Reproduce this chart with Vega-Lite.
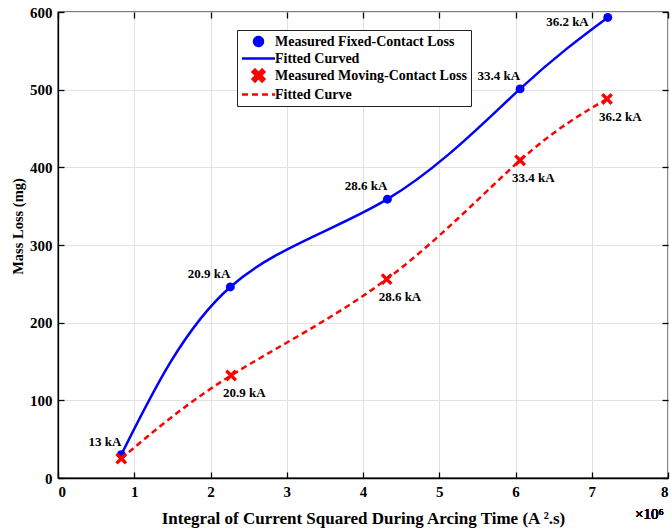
{
  "$schema": "https://vega.github.io/schema/vega-lite/v6.json",
  "width": 610,
  "height": 466,
  "autosize": {"type": "none"},
  "padding": {"left": 58, "top": 12, "right": 3, "bottom": 53},
  "config": {
    "font": "Liberation Serif",
    "view": {"stroke": "black", "strokeWidth": 1.3},
    "axis": {
      "domainColor": "black",
      "domainWidth": 1.3,
      "tickColor": "black",
      "tickWidth": 1.3,
      "tickSize": 6,
      "gridColor": "#e2e2e2",
      "gridWidth": 1,
      "labelFont": "Liberation Serif",
      "labelFontSize": 15,
      "labelFontWeight": "bold",
      "labelColor": "black",
      "titleFont": "Liberation Serif",
      "titleFontSize": 17,
      "titleFontWeight": "bold",
      "titleColor": "black"
    }
  },
  "data": {
    "values": [
      {"contact": "fixed", "point": "Measured Fixed-Contact Loss", "curve": "Fitted Curved", "x": 0.83, "y": 30, "current": "13 kA"},
      {"contact": "fixed", "point": "Measured Fixed-Contact Loss", "curve": "Fitted Curved", "x": 2.26, "y": 246, "current": "20.9 kA"},
      {"contact": "fixed", "point": "Measured Fixed-Contact Loss", "curve": "Fitted Curved", "x": 4.32, "y": 359, "current": "28.6 kA"},
      {"contact": "fixed", "point": "Measured Fixed-Contact Loss", "curve": "Fitted Curved", "x": 6.06, "y": 501, "current": "33.4 kA"},
      {"contact": "fixed", "point": "Measured Fixed-Contact Loss", "curve": "Fitted Curved", "x": 7.21, "y": 593, "current": "36.2 kA"},
      {"contact": "moving", "point": "Measured Moving-Contact Loss", "curve": "Fitted Curve", "x": 0.83, "y": 25, "current": "13 kA"},
      {"contact": "moving", "point": "Measured Moving-Contact Loss", "curve": "Fitted Curve", "x": 2.27, "y": 132, "current": "20.9 kA"},
      {"contact": "moving", "point": "Measured Moving-Contact Loss", "curve": "Fitted Curve", "x": 4.31, "y": 256, "current": "28.6 kA"},
      {"contact": "moving", "point": "Measured Moving-Contact Loss", "curve": "Fitted Curve", "x": 6.06, "y": 409, "current": "33.4 kA"},
      {"contact": "moving", "point": "Measured Moving-Contact Loss", "curve": "Fitted Curve", "x": 7.2, "y": 488, "current": "36.2 kA"}
    ]
  },
  "resolve": {"axis": {"x": "independent", "y": "independent"}},
  "layer": [
    {
      "transform": [{"filter": "datum.contact === 'fixed'"}],
      "mark": {"type": "line", "interpolate": "natural", "strokeWidth": 2.5},
      "encoding": {
        "x": {
          "field": "x", "type": "quantitative",
          "scale": {"domain": [0, 8], "nice": false, "zero": false},
          "axis": {"orient": "bottom", "values": [0, 1, 2, 3, 4, 5, 6, 7, 8], "ticks": false, "title": "Integral of Current Squared During Arcing Time (A ².s)", "labelPadding": 6, "titlePadding": 11, "grid": true}
        },
        "y": {
          "field": "y", "type": "quantitative",
          "scale": {"domain": [0, 600], "nice": false, "zero": false},
          "axis": {"orient": "left", "values": [0, 100, 200, 300, 400, 500, 600], "ticks": false, "title": "Mass Loss (mg)", "titleFontSize": 14.5, "titleX": -40, "titleY": 214, "titleBaseline": "middle", "labelPadding": 6, "grid": true}
        },
        "color": {
          "field": "curve", "type": "nominal",
          "scale": {
            "domain": ["Measured Fixed-Contact Loss", "Fitted Curved", "Measured Moving-Contact Loss", "Fitted Curve"],
            "range": ["#0000ff", "#0000ff", "#ff0000", "#ff0000"]
          },
          "legend": {
            "title": null,
            "orient": "none",
            "legendX": 179,
            "legendY": 18,
            "fillColor": "white",
            "strokeColor": "#222222",
            "padding": 4,
            "rowPadding": -2,
            "labelFont": "Liberation Serif",
            "labelFontSize": 14,
            "labelFontWeight": "bold",
            "labelColor": "black",
            "labelLimit": 0,
            "labelOffset": 9,
            "symbolSize": 150,
            "symbolOffset": 10,
            "symbolStrokeWidth": 2.5,
            "encode": {
              "symbols": {
                "update": {
                  "shape": {"signal": "datum.value === 'Measured Fixed-Contact Loss' ? 'circle' : datum.value === 'Measured Moving-Contact Loss' ? 'M-1,-0.6L-0.6,-1L0,-0.4L0.6,-1L1,-0.6L0.4,0L1,0.6L0.6,1L0,0.4L-0.6,1L-1,0.6L-0.4,0Z' : 'M-2.7,0L2.7,0'"},
                  "size": {"signal": "datum.value === 'Measured Fixed-Contact Loss' ? 80 : datum.value === 'Measured Moving-Contact Loss' ? 140 : 150"},
                  "fill": {"signal": "indexof(datum.value, 'Measured') === 0 ? scale('color', datum.value) : 'transparent'"},
                  "stroke": {"signal": "indexof(datum.value, 'Measured') === 0 ? 'transparent' : scale('color', datum.value)"},
                  "strokeWidth": {"value": 2.5},
                  "strokeDash": {"signal": "datum.value === 'Fitted Curve' ? [6, 4] : [1, 0]"},
                  "opacity": {"value": 1}
                }
              }
            }
          }
        }
      }
    },
    {
      "transform": [{"filter": "datum.contact === 'moving'"}],
      "mark": {"type": "line", "interpolate": "natural", "strokeWidth": 2.5, "strokeDash": [6, 4]},
      "encoding": {
        "x": {"field": "x", "type": "quantitative", "axis": {"orient": "top", "offset": -466, "values": [0, 1, 2, 3, 4, 5, 6, 7, 8], "labels": false, "domain": false, "title": null, "grid": false}},
        "y": {"field": "y", "type": "quantitative", "axis": {"orient": "right", "offset": -610, "values": [0, 100, 200, 300, 400, 500, 600], "labels": false, "domain": false, "title": null, "grid": false}},
        "color": {"field": "curve", "type": "nominal"}
      }
    },
    {
      "transform": [{"filter": "datum.contact === 'fixed'"}],
      "mark": {"type": "point", "shape": "circle", "filled": true, "size": 80, "opacity": 1},
      "encoding": {
        "x": {"field": "x", "type": "quantitative", "axis": {"orient": "bottom", "offset": -466, "values": [0, 1, 2, 3, 4, 5, 6, 7, 8], "labels": false, "domain": false, "title": null, "grid": false}},
        "y": {"field": "y", "type": "quantitative", "axis": {"orient": "left", "offset": -610, "values": [0, 100, 200, 300, 400, 500, 600], "labels": false, "domain": false, "title": null, "grid": false}},
        "color": {"field": "point", "type": "nominal"}
      }
    },
    {
      "transform": [{"filter": "datum.contact === 'moving'"}],
      "mark": {"type": "point", "shape": "M-1,-0.6L-0.6,-1L0,-0.4L0.6,-1L1,-0.6L0.4,0L1,0.6L0.6,1L0,0.4L-0.6,1L-1,0.6L-0.4,0Z", "filled": true, "size": 140, "opacity": 1},
      "encoding": {
        "x": {"field": "x", "type": "quantitative", "axis": null},
        "y": {"field": "y", "type": "quantitative", "axis": null},
        "color": {"field": "point", "type": "nominal"}
      }
    },
    {
      "transform": [{"filter": "datum.contact === 'fixed' && datum.current !== '36.2 kA'"}],
      "mark": {"type": "text", "align": "right", "baseline": "alphabetic", "dx": 0, "dy": -9, "font": "Liberation Serif", "fontSize": 13, "fontWeight": "bold", "color": "black"},
      "encoding": {
        "x": {"field": "x", "type": "quantitative", "axis": null},
        "y": {"field": "y", "type": "quantitative", "axis": null},
        "text": {"field": "current"}
      }
    },
    {
      "transform": [{"filter": "datum.contact === 'fixed' && datum.current === '36.2 kA'"}],
      "mark": {"type": "text", "align": "right", "baseline": "alphabetic", "dx": -19, "dy": 9, "font": "Liberation Serif", "fontSize": 13, "fontWeight": "bold", "color": "black"},
      "encoding": {
        "x": {"field": "x", "type": "quantitative", "axis": null},
        "y": {"field": "y", "type": "quantitative", "axis": null},
        "text": {"field": "current"}
      }
    },
    {
      "transform": [{"filter": "datum.contact === 'moving' && datum.current !== '13 kA'"}],
      "mark": {"type": "text", "align": "left", "baseline": "alphabetic", "dx": -8, "dy": 22, "font": "Liberation Serif", "fontSize": 13, "fontWeight": "bold", "color": "black"},
      "encoding": {
        "x": {"field": "x", "type": "quantitative", "axis": null},
        "y": {"field": "y", "type": "quantitative", "axis": null},
        "text": {"field": "current"}
      }
    },
    {
      "mark": {"type": "text", "text": "×10⁶", "align": "left", "baseline": "alphabetic", "dx": -33, "dy": 41, "font": "Liberation Serif", "fontSize": 15, "color": "black"},
      "encoding": {
        "x": {"datum": 8, "type": "quantitative", "axis": null},
        "y": {"datum": 0, "type": "quantitative", "axis": null}
      }
    }
  ]
}
